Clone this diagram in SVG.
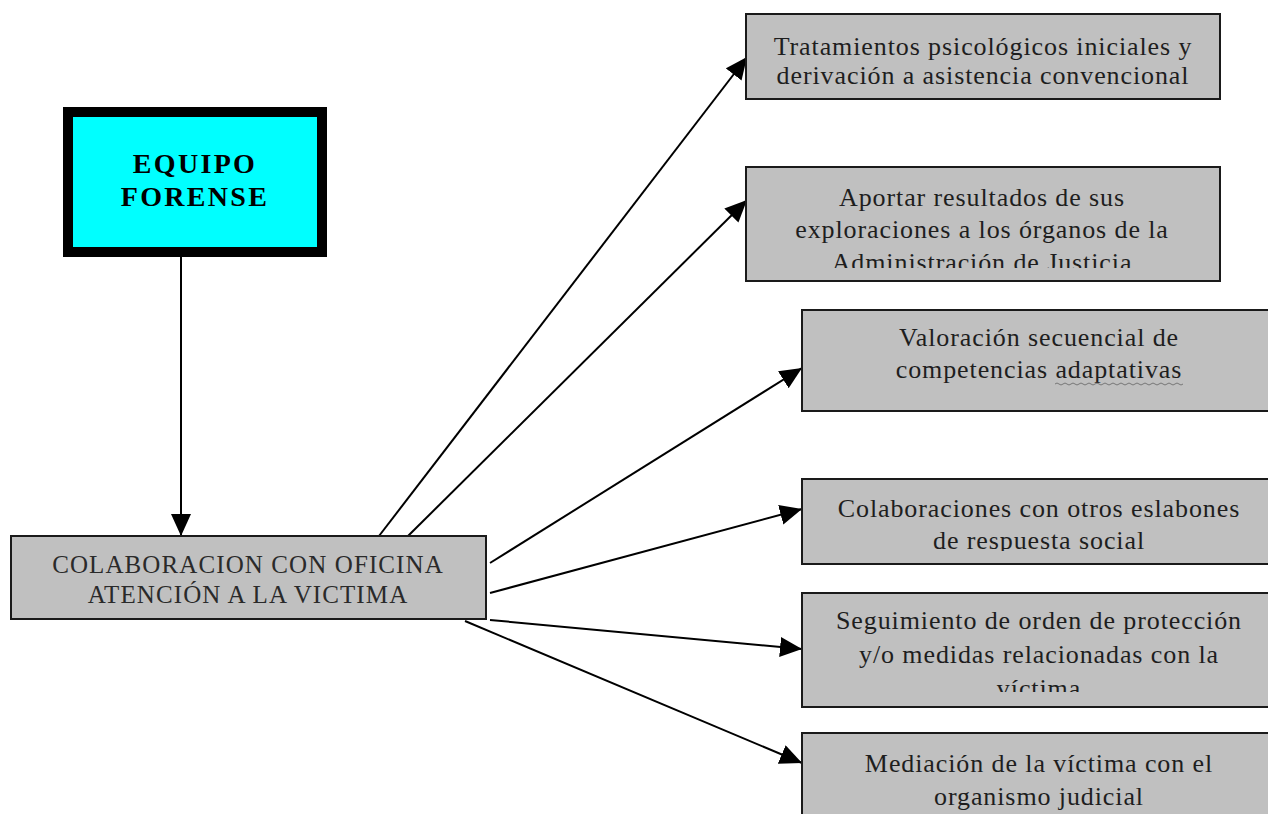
<svg xmlns="http://www.w3.org/2000/svg" width="1268" height="814" viewBox="0 0 1268 814">
<style>
.box{fill:#c0c0c0;stroke:#1a1a1a;stroke-width:2}
.t{font-family:"Liberation Serif","Times New Roman",serif;font-size:26px;fill:#1e1e1e;text-anchor:middle;letter-spacing:0.9px}
.tc{font-family:"Liberation Serif","Times New Roman",serif;font-size:25px;fill:#2a2a2a;text-anchor:middle;letter-spacing:1.1px}
.tb{font-family:"Liberation Serif","Times New Roman",serif;font-size:28px;font-weight:bold;fill:#000;text-anchor:middle;letter-spacing:2.3px}
.c{stroke:#000;stroke-width:2;fill:none;marker-end:url(#ah)}
</style>
<defs>
<marker id="ah" markerUnits="userSpaceOnUse" markerWidth="24" markerHeight="22" refX="22" refY="10" orient="auto">
<path d="M0,0 L22,10 L0,20 z" fill="#000"/>
</marker>
<clipPath id="c2"><rect x="746" y="167" width="474" height="101"/></clipPath>
<clipPath id="c4"><rect x="802" y="479" width="466" height="72"/></clipPath>
<clipPath id="c5"><rect x="802" y="593" width="466" height="99"/></clipPath>
</defs>
<rect width="1268" height="814" fill="#fff"/>
<g id="connectors">
<line class="c" x1="181" y1="257" x2="181" y2="536"/>
<line class="c" x1="379" y1="536" x2="747" y2="57"/>
<line class="c" x1="408" y1="536" x2="747" y2="200"/>
<line class="c" x1="490" y1="563" x2="802" y2="368"/>
<line class="c" x1="490" y1="593" x2="802" y2="509"/>
<line class="c" x1="490" y1="620" x2="802" y2="649"/>
<line class="c" x1="465" y1="621" x2="802" y2="763"/>
</g>
<g id="equipo">
<rect x="68" y="112" width="254" height="140" fill="#00ffff" stroke="#000" stroke-width="10"/>
<text class="tb" x="195" y="173">EQUIPO</text>
<text class="tb" x="195" y="206">FORENSE</text>
</g>
<g id="colaboracion">
<rect class="box" x="11" y="536" width="475" height="83"/>
<text class="tc" x="248" y="573">COLABORACION CON OFICINA</text>
<text class="tc" x="248" y="603">ATENCIÓN A LA VICTIMA</text>
</g>
<g id="n1">
<rect class="box" x="746" y="14" width="474" height="85"/>
<text class="t" x="983" y="55">Tratamientos psicológicos iniciales y</text>
<text class="t" x="983" y="84">derivación a asistencia convencional</text>
</g>
<g id="n2">
<rect class="box" x="746" y="167" width="474" height="114"/>
<g clip-path="url(#c2)">
<text class="t" x="982" y="206">Aportar resultados de sus</text>
<text class="t" x="982" y="238">exploraciones a los órganos de la</text>
<text class="t" x="982" y="271">Administración de Justicia</text>
</g>
</g>
<g id="n3">
<rect class="box" x="802" y="310" width="480" height="101"/>
<text class="t" x="1039" y="346">Valoración secuencial de</text>
<text class="t" x="1039" y="378">competencias adaptativas</text>
<path d="M1055,384 q2,-2 4,0 t4,0 t4,0 t4,0 t4,0 t4,0 t4,0 t4,0 t4,0 t4,0 t4,0 t4,0 t4,0 t4,0 t4,0 t4,0 t4,0 t4,0 t4,0 t4,0 t4,0 t4,0 t4,0 t4,0 t4,0 t4,0 t4,0 t4,0 t4,0 t4,0 t4,0 t4,0" fill="none" stroke="#777" stroke-width="1"/>
</g>
<g id="n4">
<rect class="box" x="802" y="479" width="480" height="85"/>
<g clip-path="url(#c4)">
<text class="t" x="1039" y="517">Colaboraciones con otros eslabones</text>
<text class="t" x="1039" y="549">de respuesta social</text>
</g>
</g>
<g id="n5">
<rect class="box" x="802" y="593" width="480" height="114"/>
<g clip-path="url(#c5)">
<text class="t" x="1039" y="629">Seguimiento de orden de protección</text>
<text class="t" x="1039" y="663">y/o medidas relacionadas con la</text>
<text class="t" x="1039" y="697">víctima</text>
</g>
</g>
<g id="n6">
<rect class="box" x="802" y="733" width="480" height="100"/>
<text class="t" x="1039" y="772">Mediación de la víctima con el</text>
<text class="t" x="1039" y="805">organismo judicial</text>
</g>
</svg>
